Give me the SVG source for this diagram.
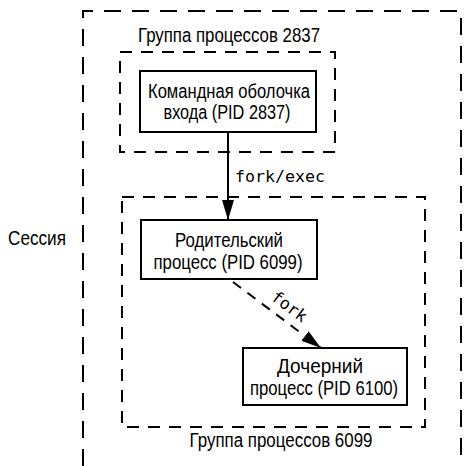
<svg xmlns="http://www.w3.org/2000/svg" width="464" height="466" viewBox="0 0 464 466">
<defs>
<style>
.t{font-family:"Liberation Sans",Arial,sans-serif;font-size:19.5px;fill:#000;text-anchor:middle}
.m{font-family:"DejaVu Sans Mono","Liberation Mono",monospace;font-size:16.6px;fill:#000}
.box{fill:#fff;stroke:#000;stroke-width:2}
.grp{fill:none;stroke:#000;stroke-width:2;stroke-dasharray:12 9}
.sess{fill:none;stroke:#000;stroke-width:2;stroke-dasharray:17 11}
.ln{fill:none;stroke:#000;stroke-width:2}
</style>
<marker id="ah" markerWidth="20" markerHeight="12" refX="20" refY="6" orient="auto" markerUnits="userSpaceOnUse">
<path d="M0,0 L20,6 L0,12 Z" fill="#000"/>
</marker>
</defs>
<g id="session">
<path class="sess" d="M83,466 V11 H461 V466"/>
<text class="t" x="37" y="245" textLength="58" lengthAdjust="spacingAndGlyphs">Сессия</text>
</g>
<g id="group2837">
<rect class="grp" x="120" y="52" width="215" height="100"/>
<text class="t" x="229" y="42" textLength="182" lengthAdjust="spacingAndGlyphs">Группа процессов 2837</text>
</g>
<g id="group6099">
<rect class="grp" x="122" y="197" width="303" height="230"/>
<text class="t" x="281" y="447" textLength="183" lengthAdjust="spacingAndGlyphs">Группа процессов 6099</text>
</g>
<g id="connectors">
<line class="ln" x1="228" y1="132" x2="228" y2="220" marker-end="url(#ah)"/>
<text class="m" x="235" y="182" textLength="90" lengthAdjust="spacingAndGlyphs">fork/exec</text>
<line class="ln" x1="233" y1="282" x2="321" y2="348" stroke-dasharray="10 8" marker-end="url(#ah)"/>
<text class="m" text-anchor="middle" transform="translate(286,311) rotate(36.5)" x="0" y="0">fork</text>
</g>
<g id="shell">
<rect class="box" x="140" y="71" width="176" height="61"/>
<text class="t" x="229" y="98" textLength="162" lengthAdjust="spacingAndGlyphs">Командная оболочка</text>
<text class="t" x="227" y="119" textLength="127" lengthAdjust="spacingAndGlyphs">входа (PID 2837)</text>
</g>
<g id="parent">
<rect class="box" x="141" y="220" width="176" height="59"/>
<text class="t" x="229" y="247" textLength="108" lengthAdjust="spacingAndGlyphs">Родительский</text>
<text class="t" x="228" y="269" textLength="149" lengthAdjust="spacingAndGlyphs">процесс (PID 6099)</text>
</g>
<g id="child">
<rect class="box" x="243" y="348" width="164" height="57"/>
<text class="t" x="320" y="373" textLength="86" lengthAdjust="spacingAndGlyphs">Дочерний</text>
<text class="t" x="324" y="395" textLength="148" lengthAdjust="spacingAndGlyphs">процесс (PID 6100)</text>
</g>
</svg>
